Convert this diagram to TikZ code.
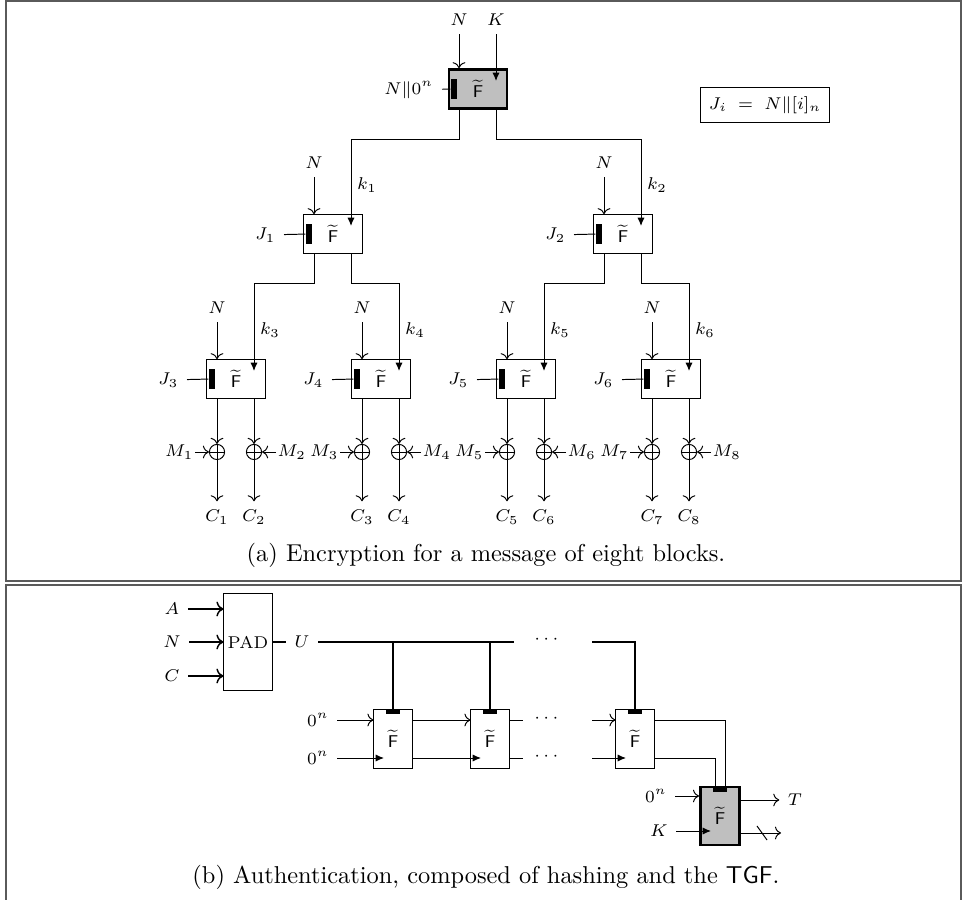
\documentclass[tikz,border=0pt]{standalone}
\usepackage{amsmath}
\usepackage{tikz}
\usetikzlibrary{arrows.meta,calc,positioning}
\definecolor{Shade}{HTML}{BFBFBF}
\definecolor{Frame}{HTML}{5A5A5A}

\begin{document}
\begin{tikzpicture}[x=0.41pt,y=-0.41pt,font=\scriptsize,>=To,
    fbox/.style={draw,minimum width=23.8pt,minimum height=15.8pt,inner sep=0pt},
    hbox/.style={draw,minimum width=16pt,minimum height=23.8pt,inner sep=0pt},
    tgf/.style={very thick,fill=Shade},
    vbar/.style={fill=black,inner sep=0pt,minimum width=2.5pt,minimum height=8pt},
    hbar/.style={fill=black,inner sep=0pt,minimum width=5.7pt,minimum height=1.8pt},
    xor/.style={draw,circle,inner sep=0pt,minimum size=6.2pt,
      path picture={\draw (path picture bounding box.north)--(path picture bounding box.south)
        (path picture bounding box.west)--(path picture bounding box.east);}},
    keyin/.style={-{Latex[length=3.4pt,width=2.9pt]}},
    mlab/.style={inner sep=0.5pt},
    frame/.style={Frame,line width=0.8pt}]
    \useasboundingbox (0,0) rectangle (963,900);
    \draw[frame] (6,1) rectangle (961,581);
    \draw[frame] (6,905) -- (6,585) -- (961,585) -- (961,905);

    \node[fbox,tgf] (f0) at (478,89) {$\widetilde{\mathsf{F}}$};
    \node[vbar] (b0) at (454,89) {};
    \node (n0) at (459,20) {$N$};
    \node (kk) at (496,20) {$K$};
    \coordinate (key0) at (496,81);
    \node[anchor=east] (j0) at (442,90) {$N\|0^n$};
    \draw[->] (n0) -- (n0 |- f0.north);
    \draw[keyin] (kk) -- (key0);
    \draw (j0) -- (b0);
    \node[draw,minimum width=46pt,minimum height=14pt] (ji) at (765,105) {$J_i \;=\; N\|[i]_n$};

    \foreach \i/\x/\y in {1/333/234,2/623/234,3/236/379,4/381/379,5/526/379,6/671/379}{
      \node[fbox] (f\i) at (\x,\y) {$\widetilde{\mathsf{F}}$};
      \node[vbar] (b\i) at (\x-24,\y) {};
      \node (n\i) at (\x-19,\y-71) {$N$};
      \coordinate (key\i) at (\x+18,\y-8);
      \node (k\i) at (\x+34,\y-49) {$k_{\i}$};
      \node[anchor=east] (j\i) at (\x-49,\y+1) {$J_{\i}$};
      \draw[->] (n\i) -- (n\i |- f\i.north);
      \draw (j\i) -- (b\i);
    }
    \foreach \p/\c/\o in {0/1/n,0/2/key,1/3/n,1/4/key,2/5/n,2/6/key}
      \draw[keyin] (f\p.south -| \o\p) -- ++(0,30) -| (key\c);

    \foreach \i/\x/\a/\b in {3/236/1/2,4/381/3/4,5/526/5/6,6/671/7/8}{
      \node[xor] (xa\i) at (\x-19,452) {};
      \node[xor] (xb\i) at (\x+18,452) {};
      \node[mlab,anchor=east] (m\a) at (\x-41,452) {$M_{\a}$};
      \node[mlab,anchor=west] (m\b) at (\x+40,452) {$M_{\b}$};
      \node (c\a) at (\x-19,517) {$C_{\a}$};
      \node (c\b) at (\x+18,517) {$C_{\b}$};
      \draw[->] (f\i.south -| xa\i) -- (xa\i);
      \draw[->] (f\i.south -| xb\i) -- (xb\i);
      \draw[->] (m\a) -- (xa\i);
      \draw[->] (m\b) -- (xb\i);
      \draw[->] (xa\i) -- (c\a);
      \draw[->] (xb\i) -- (c\b);
    }
    \node (capa) at (486,555) {\normalsize (a) Encryption for a message of eight blocks.};

    \node[draw,minimum width=19.7pt,minimum height=39.4pt,inner sep=0pt] (pad) at (248,642) {PAD};
    \foreach \t/\y in {A/609,N/642,C/676}{
      \node (in\t) at (172,\y) {$\t$};
      \draw[semithick,->] (in\t) -- (in\t -| pad.west);
    }
    \node (u) at (302,642) {$U$};
    \coordinate (ue) at (514,642);
    \coordinate (us) at (592,642);
    \node (d0) at (548,640) {$\cdots$};
    \draw[thick] (pad) -- (u);
    \draw[thick] (u) -- (ue);

    \foreach \i/\x in {1/393,2/490,3/635}{
      \node[hbox] (h\i) at (\x,739) {$\widetilde{\mathsf{F}}$};
      \node[hbar] (hb\i) at (\x,712) {};
      \coordinate (t\i) at (\x-19.5,720);
      \coordinate (s\i) at (\x-9,758);
    }
    \draw[thick] (hb1 |- u) -- (hb1);
    \draw[thick] (hb2 |- u) -- (hb2);
    \draw[thick] (us) -| (hb3);

    \node (z1) at (318,720) {$0^n$};
    \node (z2) at (318,758) {$0^n$};
    \draw[->] (z1) -- (t1);
    \draw[keyin] (z2) -- (s1);
    \draw[->] (h1.east |- t1) -- (t2);
    \draw[keyin] (h1.east |- s1) -- (s2);
    \coordinate (e1) at (523,720);
    \coordinate (e2) at (523,758);
    \coordinate (g1) at (592,720);
    \coordinate (g2) at (592,758);
    \draw (h2.east |- t2) -- (e1);
    \draw (h2.east |- s2) -- (e2);
    \node (d1) at (548,719) {$\cdots$};
    \node (d2) at (548,757) {$\cdots$};
    \draw[->] (g1) -- (t3);
    \draw[keyin] (g2) -- (s3);

    \node[hbox,tgf] (tg) at (720,816) {$\widetilde{\mathsf{F}}$};
    \node[hbar] (tgb) at (720,790) {};
    \coordinate (ta) at (725,788);
    \coordinate (tb) at (715,788);
    \draw (h3.east |- t3) -| (ta);
    \draw (h3.east |- s3) -| (tb);
    \node (z3) at (656,796) {$0^n$};
    \node (kf) at (659,831) {$K$};
    \coordinate (kt) at (711,831);
    \draw[->] (z3) -- (z3 -| tg.west);
    \draw[keyin] (kf) -- (kt);
    \node (tt) at (795,800) {$T$};
    \coordinate (dis) at (781,833);
    \draw[->] (tg.east |- tt) -- (tt);
    \draw[->] (tg.east |- dis) -- (dis);
    \draw ($(dis)+(-24,-7)$) -- ++(10,14);
    \node (capb) at (486,877) {\normalsize (b) Authentication, composed of hashing and the \textsf{TGF}.};
  \end{tikzpicture}
\end{document}
